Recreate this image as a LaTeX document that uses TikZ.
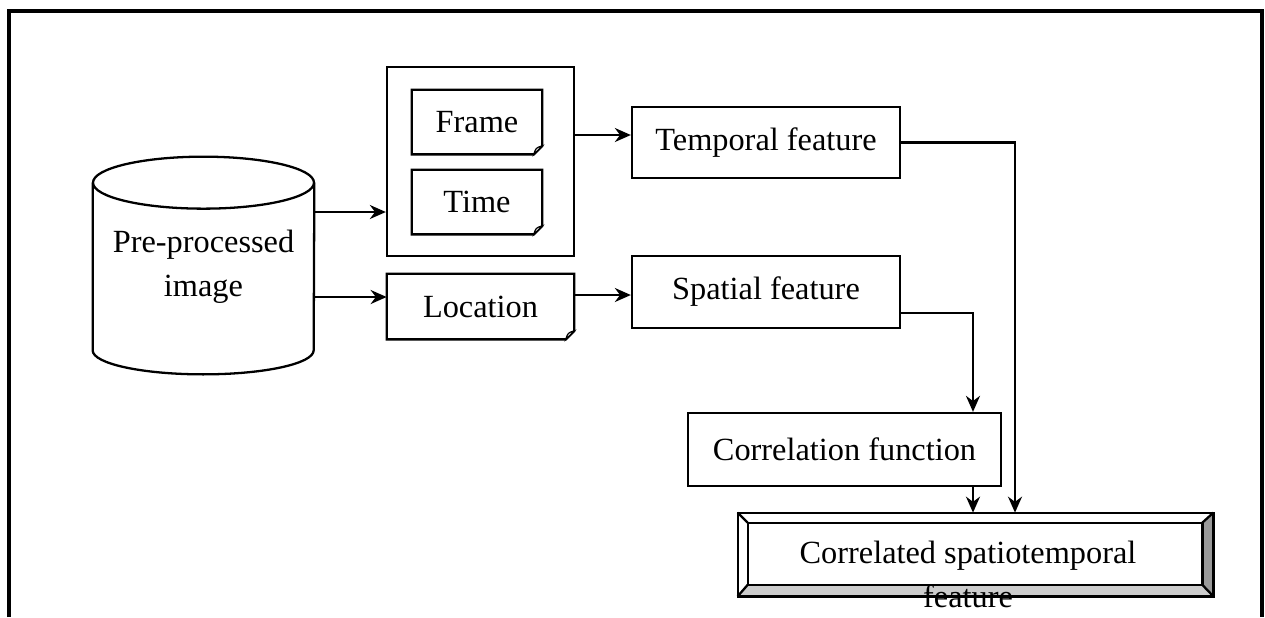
\documentclass[tikz,border=0pt]{standalone}
\usepackage{fontspec}
\setmainfont{Liberation Serif}
\usetikzlibrary{arrows.meta,calc}

\tikzset{
    txt/.style={inner sep=0pt, align=center, font=\fontsize{18.4}{25}\selectfont},
    box/.style={txt, draw, line width=1.3pt, fill=white},
    doc/.style={txt, minimum width=2.6cm, minimum height=1.28cm},
    conn/.style={line width=1.3pt, -{Stealth[length=0.32cm,width=0.28cm]}},
}

\begin{document}
\begin{tikzpicture}
        \useasboundingbox (0, 0) rectangle (25.3, -12.34);
        % frame round the figure, open at the bottom
        \draw [line width=1.8pt] (0.18, -12.34) -- (0.18, -0.22) -- (25.24, -0.22) -- (25.24, -12.34);
        % image store
        \node [txt, minimum width=4.42cm, minimum height=3.34cm] (img) at (4.07, -5.33) {Pre-processed\\image};
        \draw [line width=1.3pt] (img.north west) -- (img.south west) arc [start angle=180, end angle=360, x radius=2.21cm, y radius=0.48cm] -- (img.north east);
        \draw [line width=1.3pt] (img.north) ellipse [x radius=2.21cm, y radius=0.52cm];
        % inputs
        \node [box, minimum width=3.74cm, minimum height=3.78cm] (grp) at (9.61, -3.23) {};
        \node [doc] (frm) at (9.54, -2.44) {Frame};
        \node [doc] (tim) at (9.54, -4.04) {Time};
        \node [doc, minimum width=3.74cm, minimum height=1.3cm] (loc) at (9.61, -6.13) {Location};
        \foreach \n in {frm, tim, loc}{
            \draw [line width=1.3pt] (\n.north west) -- (\n.north east) -- ([yshift=0.17cm]\n.south east) -- ([xshift=-0.17cm]\n.south east) -- (\n.south west) -- cycle;
            \draw [line width=0.7pt, fill=white] ([yshift=0.17cm]\n.south east) .. controls ([shift={(-0.13, 0.13)}]\n.south east) .. ([xshift=-0.17cm]\n.south east) -- cycle;
        }
        % features
        \node [box, minimum width=5.36cm, minimum height=1.42cm] (tmp) at (15.32, -2.85) {Temporal feature};
        \node [box, minimum width=5.36cm, minimum height=1.44cm] (spa) at (15.32, -5.84) {Spatial feature};
        \node [box, minimum width=6.26cm, minimum height=1.46cm] (cor) at (16.89, -8.99) {Correlation function};
        % bevelled result box
        \node [minimum width=9.5cm, minimum height=1.66cm, inner sep=0pt] (out) at (19.51, -11.09) {};
        \fill [gray!40] (out.south west) -- (out.south east) -- ([shift={(-0.22, 0.23)}]out.south east) -- ([shift={(0.2, 0.23)}]out.south west) -- cycle;
        \fill [gray!80] (out.south east) -- (out.north east) -- ([shift={(-0.22, -0.2)}]out.north east) -- ([shift={(-0.22, 0.23)}]out.south east) -- cycle;
        \draw [line width=1.3pt] (out.south west) rectangle (out.north east);
        \draw [line width=1.3pt] ([shift={(0.2, 0.23)}]out.south west) rectangle ([shift={(-0.22, -0.2)}]out.north east);
        \draw [line width=1.3pt] (out.north west) -- ++(0.2, -0.2);
        \draw [line width=1.3pt] (out.south west) -- ++(0.2, 0.23);
        \draw [line width=1.3pt] (out.north east) -- ++(-0.22, -0.2);
        \draw [line width=1.3pt] (out.south east) -- ++(-0.22, 0.23);
        \node [txt] (outtxt) at ([shift={(-0.15, -0.4)}]out.center) {Correlated spatiotemporal\\feature};
        % connectors
        \draw [conn] ([yshift=1.09cm]img.east) -- ([yshift=1.09cm]img.east -| grp.west);
        \draw [conn] ([yshift=-0.61cm]img.east) -- ([yshift=-0.61cm]img.east -| loc.west);
        \draw [conn] ([yshift=0.53cm]grp.east) -- ([yshift=0.53cm]grp.east -| tmp.west);
        \draw [conn] ([yshift=0.23cm]loc.east) -- ([yshift=0.23cm]loc.east -| spa.west);
        \draw [conn] (tmp.east) -| ([xshift=0.79cm]out.north);
        \draw [conn] ([yshift=-0.42cm]spa.east) -| ([xshift=2.57cm]cor.north);
        \draw [conn] ([xshift=2.57cm]cor.south) -- ([xshift=2.57cm]cor.south |- out.north);
    \end{tikzpicture}
\end{document}
